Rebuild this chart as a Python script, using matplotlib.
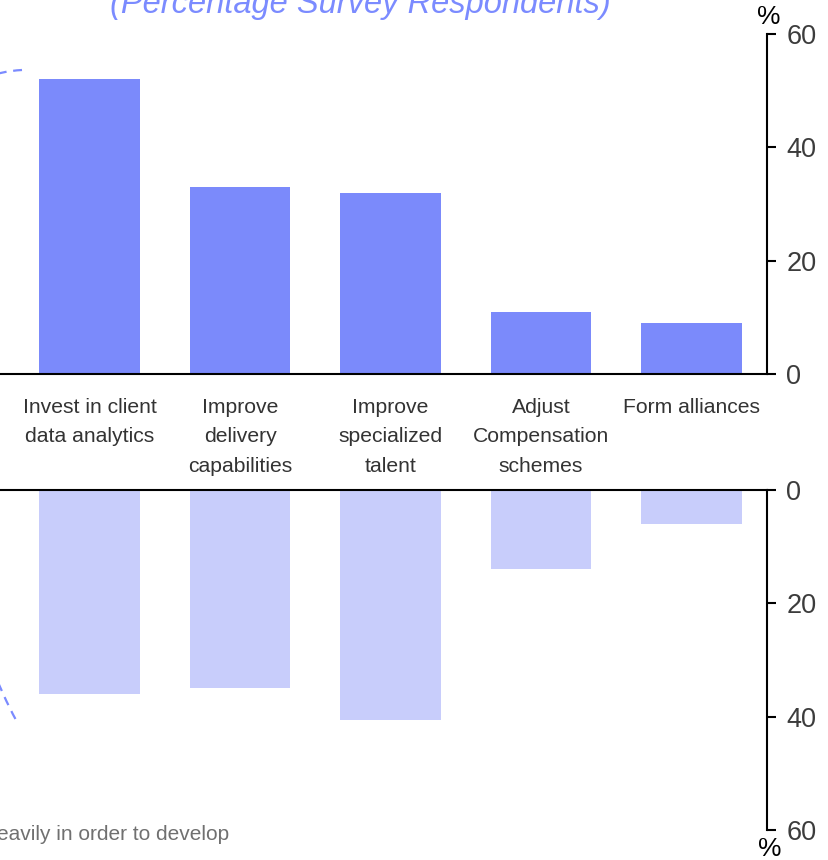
import matplotlib.pyplot as plt
from matplotlib.path import Path
from matplotlib.patches import PathPatch

# survey answers, share of respondents (%)
categories = ["Invest in client\ndata analytics", "Improve\ndelivery\ncapabilities",
              "Improve\nspecialized\ntalent", "Adjust\nCompensation\nschemes", "Form alliances"]
top_vals = [52, 33, 32, 11, 9]
bottom_vals = [36, 35, 40.5, 14, 6]
yticks = [0, 20, 40, 60]

plt.rcParams['font.family'] = ['Liberation Sans', 'DejaVu Sans']

W, H = 829, 860
fig = plt.figure(figsize=(W / 100, H / 100), dpi=100)


def box(left, top, right, bottom):
    # pixel edges -> [x, y, w, h] in figure fraction
    return [left / W, 1 - bottom / H, (right - left) / W, (bottom - top) / H]


ax1 = fig.add_axes(box(0, 34, 767, 374))
ax2 = fig.add_axes(box(0, 490, 767, 830))

x = range(len(categories))
ax1.bar(x, top_vals, width=0.67, color='#7b8afb')
ax2.bar(x, bottom_vals, width=0.67, color='#c8cdfb')

for ax in (ax1, ax2):
    ax.set_xlim(-0.595, 4.502)
    ax.set_yticks(yticks)
    ax.yaxis.tick_right()
    ax.tick_params(axis='y', direction='out', length=6.5, width=1.5,
                   pad=7.5, labelsize=19.5, labelcolor='#3c3c3c')
    ax.spines['left'].set_visible(False)
    for s in ax.spines.values():
        s.set_linewidth(1.5)

ax1.set_ylim(0, 60)
ax1.spines['top'].set_visible(False)
ax1.set_xticks(list(x))
ax1.set_xticklabels(categories, fontsize=15.2, color='#333333', linespacing=1.72)
ax1.tick_params(axis='x', length=0, pad=17)

ax2.set_ylim(60, 0)
ax2.spines['bottom'].set_visible(False)
ax2.set_xticks([])

# percent markers at the ends of the scale
fig.text(769 / W, 1 - 17 / H, '%', ha='center', va='center', fontsize=19)
fig.text(770 / W, 1 - 849 / H, '%', ha='center', va='center', fontsize=19)

fig.text(360 / W, 1 - 13 / H, '(Percentage Survey Respondents)', ha='center',
         va='baseline', style='italic', color='#7b8bff', fontsize=23.5)
fig.text(-3 / W, 1 - 840 / H, 'eavily in order to develop', ha='left',
         va='baseline', color='#707070', fontsize=15)

# dashed bracket curve along the left edge
pts = [(22, 70), (-200, 82), (-50, 600), (16, 720)]
verts = [(px / W, 1 - py / H) for px, py in pts]
curve = PathPatch(Path(verts, [Path.MOVETO, Path.CURVE4, Path.CURVE4, Path.CURVE4]),
                  transform=fig.transFigure, fill=False, edgecolor='#7b8bff',
                  linewidth=1.6, linestyle=(0, (4, 3)))
fig.patches.append(curve)

fig.savefig('out.png', dpi=100)
